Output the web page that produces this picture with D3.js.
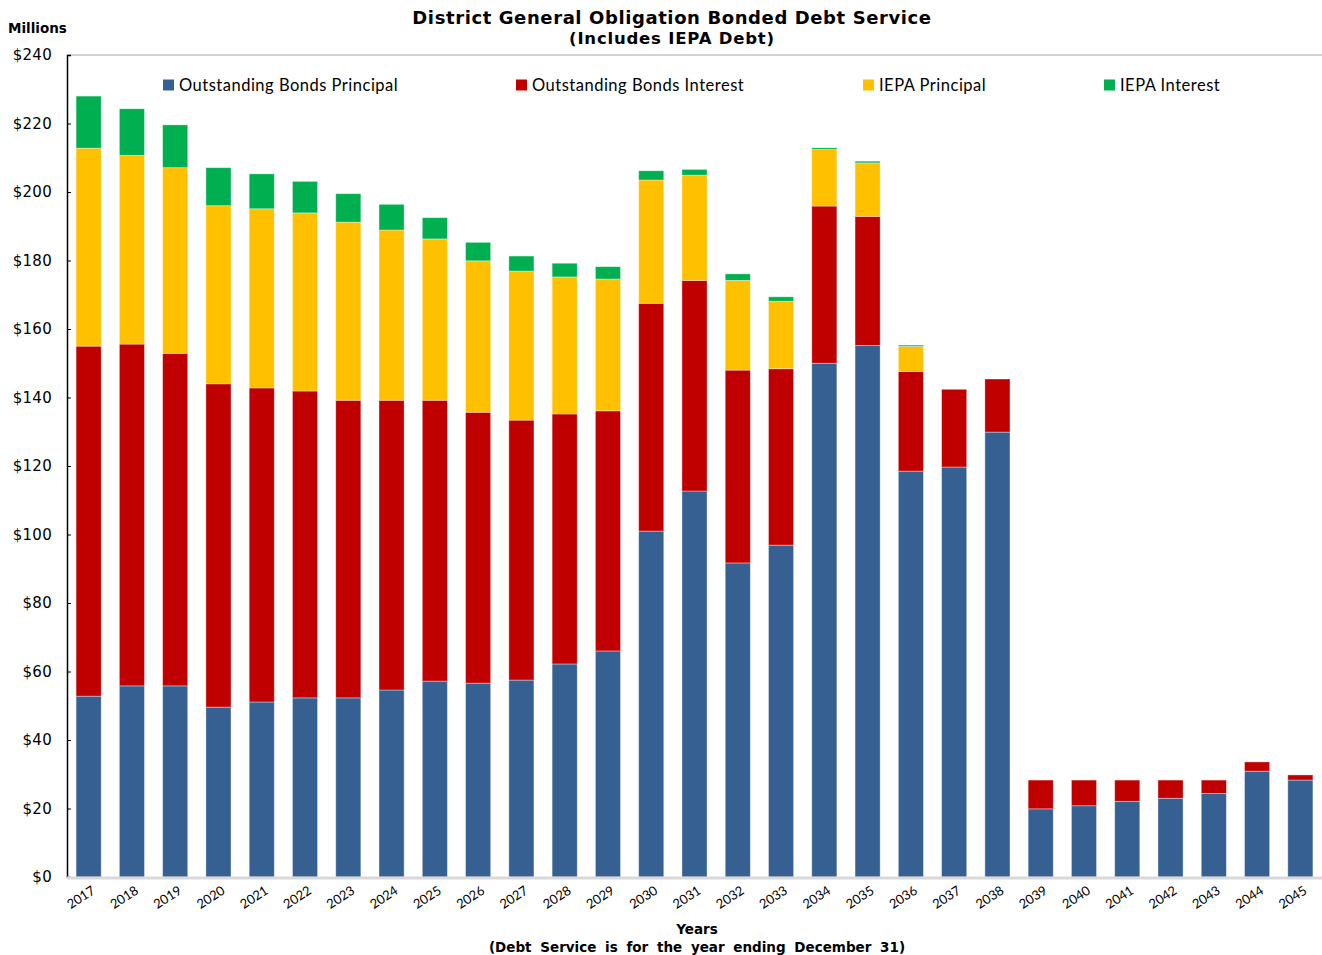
<!DOCTYPE html>
<html>
<head>
<meta charset="utf-8">
<script src="https://cdn.jsdelivr.net/npm/d3@7"></script>
<style>
  html, body { margin: 0; padding: 0; background: #fff; }
  svg { display: block; }
</style>
</head>
<body>
<svg id="chart" width="1322" height="955"></svg>
<script>
// Debt service by year, in millions of dollars
const years = ["2017","2018","2019","2020","2021","2022","2023","2024","2025","2026",
  "2027","2028","2029","2030","2031","2032","2033","2034","2035","2036",
  "2037","2038","2039","2040","2041","2042","2043","2044","2045"];

const bondsPrincipal = [52.8, 55.8, 55.8, 49.6, 51.1, 52.3, 52.3, 54.6, 57.2, 56.6,
  57.5, 62.2, 66.0, 101.0, 112.7, 91.7, 96.9, 150.0, 155.2, 118.5,
  119.7, 129.9, 19.9, 20.8, 22.1, 23.0, 24.4, 30.9, 28.3];

const bondsInterest = [102.2, 99.8, 97.1, 94.4, 91.7, 89.6, 86.9, 84.6, 82.0, 79.1,
  75.9, 73.0, 70.1, 66.5, 61.5, 56.3, 51.5, 45.9, 37.7, 29.1,
  22.7, 15.5, 8.4, 7.5, 6.2, 5.3, 3.9, 2.7, 1.5];

const iepaPrincipal = [57.8, 55.1, 54.2, 52.0, 52.3, 52.0, 52.0, 49.7, 47.1, 44.2,
  43.5, 40.0, 38.5, 36.0, 30.7, 26.2, 19.7, 16.5, 15.6, 7.3,
  0, 0, 0, 0, 0, 0, 0, 0, 0];

const iepaInterest = [15.2, 13.6, 12.5, 11.1, 10.2, 9.2, 8.3, 7.5, 6.2, 5.4,
  4.4, 4.0, 3.6, 2.7, 1.7, 1.9, 1.3, 0.5, 0.5, 0.4,
  0, 0, 0, 0, 0, 0, 0, 0, 0];

const seriesNames = ["Outstanding Bonds Principal", "Outstanding Bonds Interest", "IEPA Principal", "IEPA Interest"];
const seriesKeys = ["bp", "bi", "ip", "ii"];
const seriesColors = ["#376092", "#C00000", "#FFC000", "#00B050"];
const yTicks = [0, 20, 40, 60, 80, 100, 120, 140, 160, 180, 200, 220, 240];

const rows = years.map((yr, i) => ({
  year: yr, bp: bondsPrincipal[i], bi: bondsInterest[i], ip: iepaPrincipal[i], ii: iepaInterest[i]
}));

const svg = d3.select("#chart");
const plotLeft = 67, plotRight = 1322, plotTop = 55, plotBottom = 877;
const boldFont = "'DejaVu Sans', Verdana, sans-serif";
const bodyFont = "Lato, 'Open Sans', sans-serif";

const x = d3.scaleBand().domain(years).range([plotLeft, plotRight]).paddingInner(0.42).paddingOuter(0.21);
const y = d3.scaleLinear().domain([0, 240]).range([plotBottom, plotTop]);

const stacked = d3.stack().keys(seriesKeys)(rows);

// Top frame line
svg.append("line").attr("x1", plotLeft).attr("x2", plotRight).attr("y1", plotTop).attr("y2", plotTop)
  .attr("stroke", "#a6a6a6").attr("stroke-width", 1);

// Stacked bars
svg.append("g").selectAll("g").data(stacked).join("g")
  .attr("fill", (d, i) => seriesColors[i])
  .selectAll("rect").data(d => d.filter(s => s[1] - s[0] > 0)).join("rect")
  .attr("x", d => x(d.data.year))
  .attr("width", x.bandwidth())
  .attr("y", d => y(d[1]))
  .attr("height", d => y(d[0]) - y(d[1]))
  .attr("stroke", "#ffffff").attr("stroke-opacity", 0.45).attr("stroke-width", 0.8);

// Y axis
const yAxis = svg.append("g").attr("transform", `translate(${plotLeft},0)`)
  .call(d3.axisLeft(y).tickValues(yTicks).tickFormat(d => "$" + d).tickSize(-4).tickPadding(15));
yAxis.select(".domain").attr("stroke", "#000").attr("stroke-width", 1.5);
yAxis.selectAll(".tick line").attr("stroke", "#000").attr("stroke-width", 1);
yAxis.selectAll("text").attr("font-family", boldFont)
  .attr("font-size", 15).attr("letter-spacing", 0.3).attr("fill", "#000");

// X axis baseline
svg.append("line").attr("x1", plotLeft).attr("x2", plotRight).attr("y1", plotBottom + 1).attr("y2", plotBottom + 1)
  .attr("stroke", "#d9d9d9").attr("stroke-width", 3);

// X tick labels, rotated
const xAxis = svg.append("g").attr("transform", `translate(0,${plotBottom + 2})`)
  .call(d3.axisBottom(x).tickSize(0).tickPadding(0));
xAxis.select(".domain").remove();
xAxis.selectAll("text")
  .attr("font-family", bodyFont)
  .attr("font-size", 13).attr("fill", "#000")
  .attr("text-anchor", "end")
  .attr("dy", "0.9em")
  .attr("transform", "translate(1,4) rotate(-33)");

// Titles
svg.append("text").attr("x", 672).attr("y", 24).attr("text-anchor", "middle")
  .attr("font-family", boldFont).attr("font-weight", "bold")
  .attr("font-size", 18).attr("letter-spacing", 0.6)
  .text("District General Obligation Bonded Debt Service");
svg.append("text").attr("x", 672).attr("y", 44).attr("text-anchor", "middle")
  .attr("font-family", boldFont).attr("font-weight", "bold")
  .attr("font-size", 16.5).attr("letter-spacing", 0.8)
  .text("(Includes IEPA Debt)");

svg.append("text").attr("x", 8).attr("y", 33)
  .attr("font-family", boldFont).attr("font-weight", "bold")
  .attr("font-size", 13.5).text("Millions");

svg.append("text").attr("x", 697).attr("y", 934).attr("text-anchor", "middle")
  .attr("font-family", boldFont).attr("font-weight", "bold")
  .attr("font-size", 13.5).text("Years");
svg.append("text").attr("x", 697).attr("y", 952).attr("text-anchor", "middle")
  .attr("font-family", boldFont).attr("font-weight", "bold")
  .attr("font-size", 13.5).attr("word-spacing", 4)
  .text("(Debt Service is for the year ending December 31)");

// Legend
const legendX = [163, 516, 863, 1104];
const legend = svg.append("g").selectAll("g").data(seriesNames).join("g")
  .attr("transform", (d, i) => `translate(${legendX[i]},85)`);
legend.append("rect").attr("x", 0).attr("y", -5.5).attr("width", 11).attr("height", 11)
  .attr("fill", (d, i) => seriesColors[i]);
legend.append("text").attr("x", 16).attr("y", 0).attr("dy", "0.35em")
  .attr("font-family", bodyFont).attr("font-size", 16.5).attr("letter-spacing", 0.5)
  .attr("fill", "#000").text(d => d);
</script>
</body>
</html>
